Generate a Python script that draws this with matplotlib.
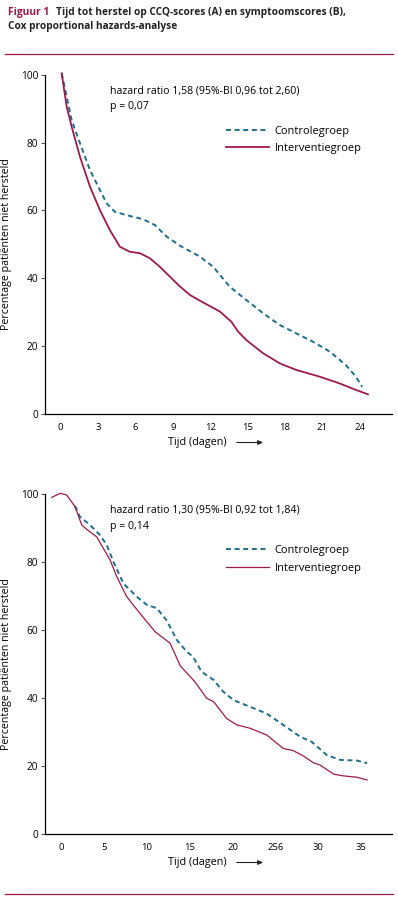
import matplotlib
matplotlib.use("Agg")
import matplotlib.pyplot as plt
from matplotlib.lines import Line2D
from matplotlib.patches import FancyArrowPatch

plt.rcParams['font.family'] = ['Open Sans', 'DejaVu Sans']
plt.rcParams['lines.scale_dashes'] = False

# ---------------- data ----------------
# Panel A: CCQ-scores
a_ctrl_days = [0.08, 0.48, 0.88, 1.55, 2.35, 3.15, 3.69, 4.35, 5.29, 6.62, 7.56, 8.5, 9.57,
               11.17, 12.24, 13.58, 14.9, 16.25, 17.6, 18.9, 20.26, 21.6, 22.9, 23.7, 24.2]
a_ctrl_vals = [100.4, 93.5, 86.6, 79.8, 71.9, 66.0, 62.1, 59.6, 58.6, 57.4, 55.7, 52.3, 49.6,
               46.4, 43.4, 37.5, 33.6, 29.7, 26.2, 23.8, 21.3, 18.4, 14.4, 11.0, 8.0]
a_int_days = [0.08, 0.48, 0.88, 1.55, 2.35, 3.15, 3.95, 4.75, 5.56, 6.36, 7.16, 7.96, 8.76,
              9.57, 10.37, 11.17, 12.78, 13.7, 14.24, 14.9, 16.25, 17.6, 18.9, 20.8, 22.4,
              23.7, 24.67]
a_int_vals = [100.4, 90.6, 84.7, 75.8, 67.0, 60.1, 54.2, 49.3, 47.8, 47.4, 45.9, 43.4, 40.5,
              37.6, 35.1, 33.4, 30.2, 27.2, 24.3, 21.8, 17.9, 14.9, 13.0, 11.0, 9.0, 7.1, 5.8]

# Panel B: symptoomscores
b_ctrl_days = [1.63, 2.2, 3.38, 4.55, 5.33, 6.1, 7.27, 8.83, 10.0, 11.17, 12.3, 13.5, 14.67,
               15.4, 16.4, 17.8, 18.9, 20.1, 22.05, 24.0, 25.9, 27.9, 29.25, 31.0, 32.55,
               34.5, 35.7]
b_ctrl_vals = [96.5, 93.3, 90.9, 87.9, 85.0, 80.1, 73.7, 69.8, 67.4, 66.4, 62.9, 57.1, 53.6,
               52.1, 47.7, 45.3, 41.9, 39.4, 37.4, 35.4, 32.1, 28.6, 27.1, 23.2, 21.8, 21.6,
               20.8]
b_int_days = [-1.09, -0.1, 0.66, 1.63, 2.41, 3.0, 4.16, 4.94, 5.72, 6.5, 7.66, 9.2, 10.97,
              12.72, 13.9, 15.6, 17.0, 17.8, 18.55, 19.3, 20.5, 22.05, 24.0, 25.9, 27.1,
              28.3, 29.4, 30.2, 31.8, 32.9, 34.5, 35.7]
b_int_vals = [99.0, 100.2, 99.7, 96.3, 90.9, 89.6, 87.4, 84.0, 80.6, 75.7, 69.8, 64.9, 59.5,
              56.1, 49.5, 44.8, 39.9, 38.9, 36.5, 34.0, 32.1, 31.1, 29.1, 25.2, 24.5, 22.9,
              21.0, 20.3, 17.6, 17.1, 16.7, 15.9]

a_xticks = [0, 3, 6, 9, 12, 15, 18, 21, 24]
a_xticklabels = ['0', '3', '6', '9', '12', '15', '18', '21', '24']
b_xticks = [0, 5, 10, 15, 20, 25, 30, 35]
b_xticklabels = ['0', '5', '10', '15', '20', '256', '30', '35']
yticks = [0, 20, 40, 60, 80, 100]

ann_a = ['hazard ratio 1,58 (95%-BI 0,96 tot 2,60)', 'p = 0,07']
ann_b = ['hazard ratio 1,30 (95%-BI 0,92 tot 1,84)', 'p = 0,14']
labels = ['Controlegroep', 'Interventiegroep']

CTRL = '#1f6e8c'
INT = '#9c1b4a'

W, H = 398, 898
fig = plt.figure(figsize=(W / 100, H / 100), dpi=100)


def fx(px):
    return px / W


def fy(py):
    return 1 - py / H


# title
fig.text(fx(8), fy(12), 'Figuur 1', color=INT, fontsize=7.4, fontweight='bold',
         va='center', ha='left')
fig.text(fx(56), fy(12), 'Tijd tot herstel op CCQ-scores (A) en symptoomscores (B),',
         color='#222222', fontsize=7.3, fontweight='bold', va='center', ha='left')
fig.text(fx(8), fy(26), 'Cox proportional hazards-analyse', color='#222222',
         fontsize=7.3, fontweight='bold', va='center', ha='left')
fig.add_artist(Line2D([fx(5), fx(393)], [fy(54), fy(54)], color=INT, lw=0.9))
fig.add_artist(Line2D([fx(5), fx(393)], [fy(894), fy(894)], color=INT, lw=0.9))


def make_panel(top_px, bot_px, xlim, xticks, xticklabels, ctrl, intv, ann, lw_int):
    ax = fig.add_axes([fx(45), fy(bot_px), fx(392) - fx(45), (bot_px - top_px) / H])
    ax.plot(ctrl[0], ctrl[1], color=CTRL, lw=1.4, dashes=[3.6, 2.6], label=labels[0],
            clip_on=False, solid_joinstyle='round')
    ax.plot(intv[0], intv[1], color=INT, lw=lw_int, label=labels[1], clip_on=False,
            solid_joinstyle='round')
    ax.set_xlim(*xlim)
    ax.set_ylim(0, 100)
    ax.spines['top'].set_visible(False)
    ax.spines['right'].set_visible(False)
    ax.spines['left'].set_linewidth(0.9)
    ax.spines['bottom'].set_linewidth(0.9)
    ax.set_yticks(yticks)
    ax.set_yticklabels([str(v) for v in yticks])
    ax.set_xticks(xticks)
    ax.set_xticklabels(xticklabels)
    ax.tick_params(axis='y', length=3, width=0.8, color='#555555', labelsize=7.3, pad=2)
    ax.tick_params(axis='x', length=0, labelsize=6.8, pad=6.5)
    ax.set_ylabel('Percentage patiënten niet hersteld', fontsize=7.7)
    ax.yaxis.set_label_coords((12 - 45) / (392 - 45), 0.5)
    # annotation
    x0 = (110 - 45) / (392 - 45)
    h = bot_px - top_px
    ax.text(x0, 1 - (16) / h, ann[0], transform=ax.transAxes, fontsize=7.6,
            va='center', ha='left')
    ax.text(x0, 1 - (32) / h, ann[1], transform=ax.transAxes, fontsize=7.6,
            va='center', ha='left')
    ax.legend(loc='upper left', bbox_to_anchor=((226 - 45) / (392 - 45), 1 - 51 / h),
              frameon=False, fontsize=7.9, handlelength=3.9, handletextpad=0.55,
              labelspacing=0.6, borderpad=0, borderaxespad=0)
    # x label with arrow
    fig.text(fx(168), fy(bot_px + 28.5), 'Tijd (dagen)', fontsize=7.8, va='center', ha='left')
    arr = FancyArrowPatch((fx(234), fy(bot_px + 28.5)), (fx(266), fy(bot_px + 28.5)),
                          transform=fig.transFigure,
                          arrowstyle='-|>,head_length=3,head_width=1.3',
                          color='#222222', lw=0.8)
    fig.add_artist(arr)
    return ax


make_panel(74.7, 414, (-1.26, 26.6), a_xticks, a_xticklabels,
           (a_ctrl_days, a_ctrl_vals), (a_int_days, a_int_vals), ann_a, 1.3)
make_panel(494, 834, (-1.87, 38.6), b_xticks, b_xticklabels,
           (b_ctrl_days, b_ctrl_vals), (b_int_days, b_int_vals), ann_b, 0.9)

fig.savefig('out.png', dpi=100)
